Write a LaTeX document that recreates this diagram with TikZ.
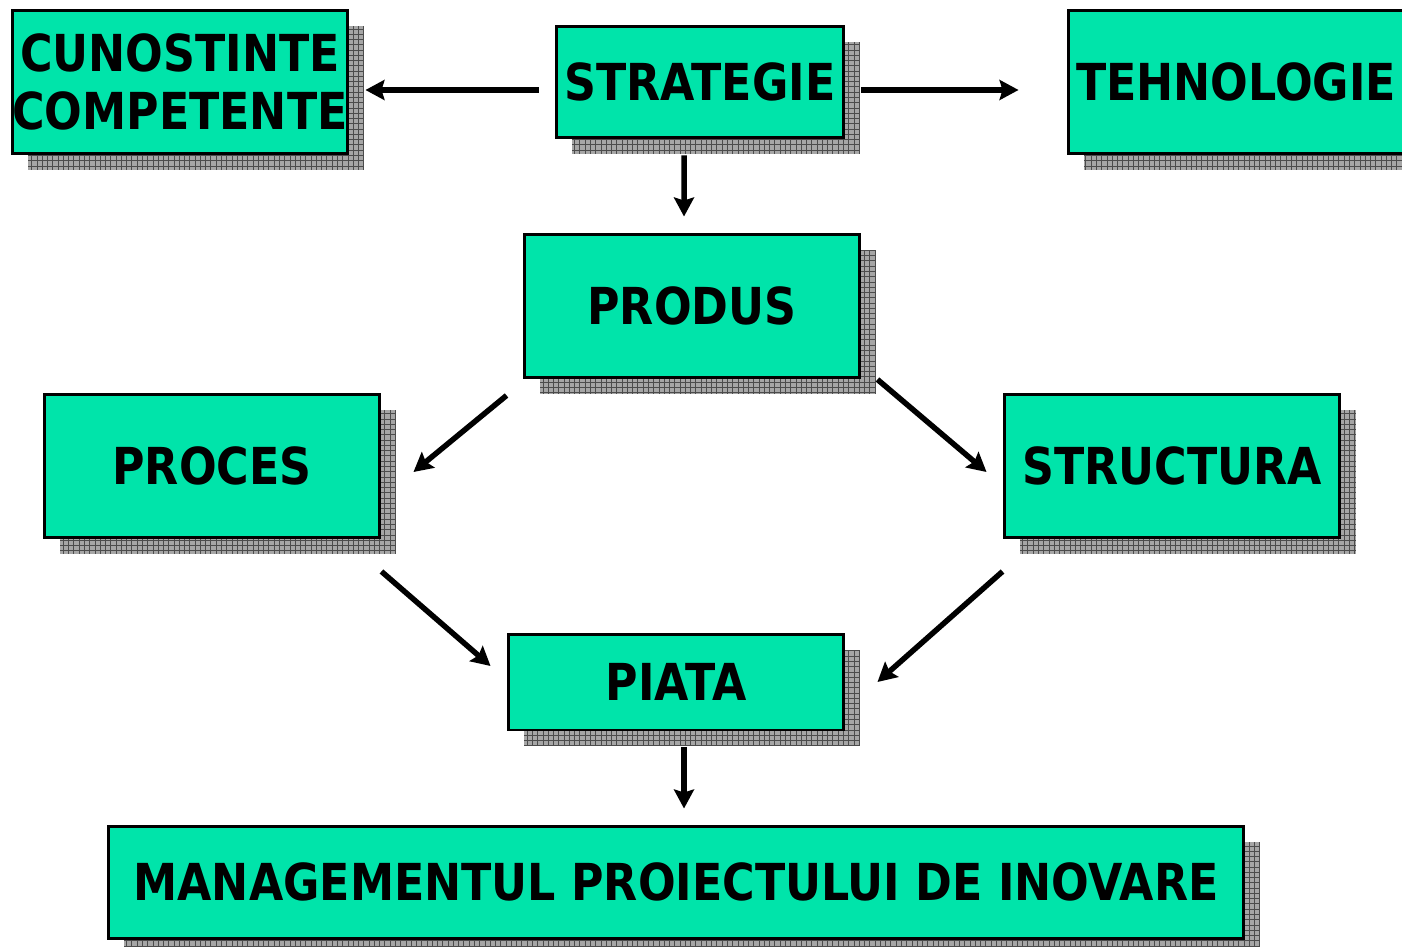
\documentclass[tikz,border=0pt]{standalone}
\usepackage{fontspec}
\setmainfont{DejaVu Sans}[FakeStretch=0.87]
\usepackage{tikz}
\usepackage{xcolor}
\usetikzlibrary{arrows.meta,shadows,patterns}

\definecolor{boxgreen}{RGB}{0,228,170}

\tikzset{
    blockbox/.style={draw=black, line width=0.06cm, fill=boxgreen, align=center,
        font=\bfseries\fontsize{29}{33}\selectfont, inner sep=0pt,
        drop shadow={shadow xshift=0.32cm, shadow yshift=-0.32cm, opacity=1,
            fill=gray!70, postaction={pattern=grid, pattern color=gray!60!black}}},
    arr/.style={line width=0.11cm, -{Stealth[length=0.38cm, width=0.4cm, inset=0.06cm]}}
}

\begin{document}
\begin{tikzpicture}[x=0.02cm, y=-0.02cm]
    \useasboundingbox (0,0) rectangle (1402,946);

    % Top row
    \node[blockbox, minimum width=6.72cm, minimum height=2.88cm] (cunostinte) at (180,82) {CUNOSTINTE\\COMPETENTE};
    \node[blockbox, minimum width=5.76cm, minimum height=2.24cm] (strategie) at (700,82) {STRATEGIE};
    \node[blockbox, minimum width=6.72cm, minimum height=2.88cm] (tehnologie) at (1236,82) {TEHNOLOGIE};

    % Middle
    \node[blockbox, minimum width=6.72cm, minimum height=2.88cm] (produs) at (692,306) {PRODUS};
    \node[blockbox, minimum width=6.72cm, minimum height=2.88cm] (proces) at (212,466) {PROCES};
    \node[blockbox, minimum width=6.72cm, minimum height=2.88cm] (structura) at (1172,466) {STRUCTURA};
    \node[blockbox, minimum width=6.72cm, minimum height=1.92cm] (piata) at (676,682) {PIATA};

    % Bottom
    \node[blockbox, minimum width=22.72cm, minimum height=2.24cm] (management) at (676,882) {MANAGEMENTUL PROIECTULUI DE INOVARE};

    % Arrows
    \draw[arr] ([xshift=-0.32cm, yshift=-0.16cm]strategie.west) -- ([xshift=0.32cm, yshift=-0.16cm]cunostinte.east);
    \draw[arr] ([xshift=0.32cm, yshift=-0.16cm]strategie.east) -- ([xshift=-0.96cm, yshift=-0.16cm]tehnologie.west);
    \draw[arr] ([xshift=-0.32cm, yshift=-0.32cm]strategie.south) -- ([xshift=-0.16cm, yshift=0.32cm]produs.north);
    \draw[arr] ([xshift=-0.32cm, yshift=-0.32cm]produs.south west) -- ([xshift=0.64cm, yshift=-0.12cm]proces.east);
    \draw[arr] ([xshift=0.32cm]produs.south east) -- ([xshift=-0.32cm, yshift=-0.12cm]structura.west);
    \draw[arr] ([yshift=-0.64cm]proces.south east) -- ([xshift=-0.32cm, yshift=0.32cm]piata.west);
    \draw[arr] ([yshift=-0.64cm]structura.south west) -- ([xshift=0.64cm]piata.east);
    \draw[arr] ([xshift=0.16cm, yshift=-0.32cm]piata.south) -- ([xshift=0.16cm, yshift=0.32cm]management.north);
\end{tikzpicture}
\end{document}
